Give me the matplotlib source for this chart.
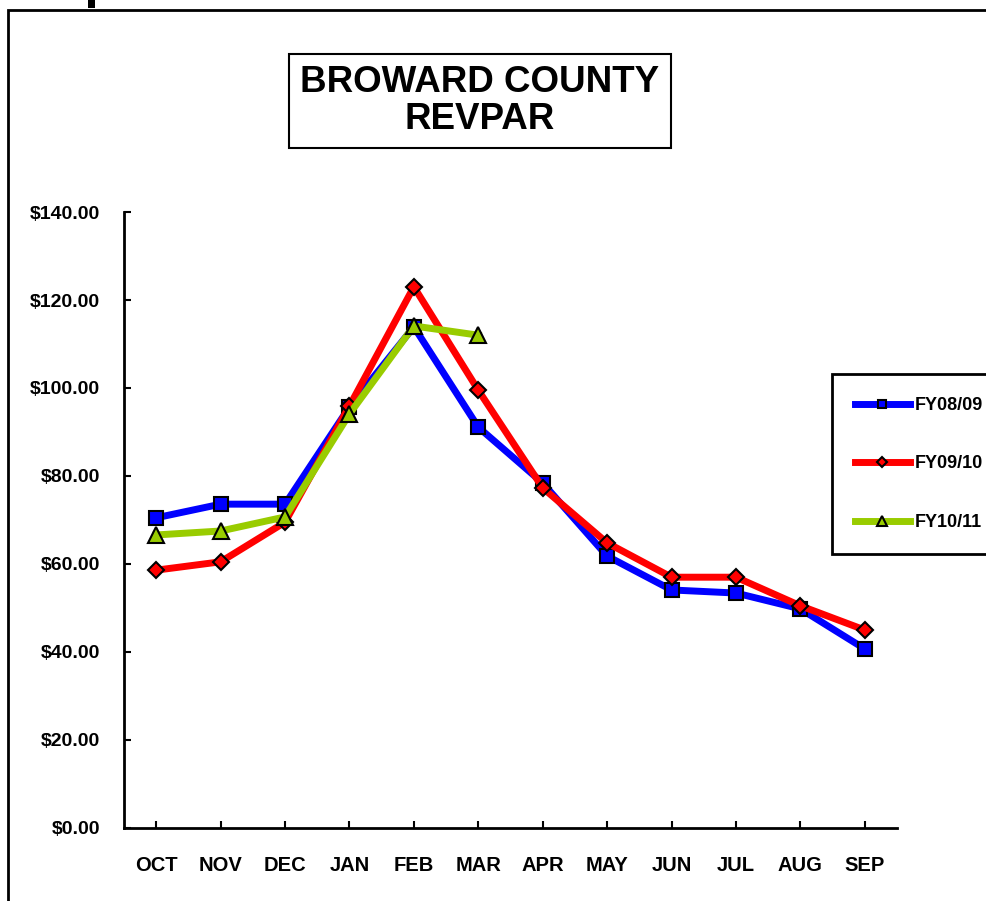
import numpy as np
import matplotlib.pyplot as plt
from matplotlib.patches import Rectangle

# Data
months = ['OCT', 'NOV', 'DEC', 'JAN', 'FEB', 'MAR', 'APR', 'MAY', 'JUN', 'JUL', 'AUG', 'SEP']
fy0809 = [70.5, 73.6, 73.6, 95.7, 113.9, 91.1, 78.4, 61.8, 54.1, 53.4, 49.8, 40.7]
fy0910 = [58.6, 60.5, 69.5, 95.9, 123.0, 99.5, 77.3, 64.8, 57.0, 57.0, 50.5, 45.0]
fy1011 = [66.6, 67.5, 70.7, 94.1, 114.1, 112.0]
yticks = np.arange(0, 141, 20)

plt.rcParams['font.family'] = ['Liberation Sans', 'DejaVu Sans']
plt.rcParams['font.weight'] = 'bold'

fig = plt.figure(figsize=(9.87, 9.01), dpi=100)
ax = fig.add_axes([124/987, 1 - 828/901, (897 - 124)/987, (828 - 212)/901])

x = np.arange(len(months))
l1, = ax.plot(x, fy0809, color='#0000ff', lw=5, marker='s', ms=10,
              mfc='#0000ff', mec='black', mew=1.5, zorder=3)
l2, = ax.plot(x, fy0910, color='#ff0000', lw=5, marker='D', ms=8,
              mfc='#ff0000', mec='black', mew=1.5, zorder=4)
l3, = ax.plot(x[:len(fy1011)], fy1011, color='#99cc00', lw=5, marker='^', ms=11,
              mfc='#99cc00', mec='black', mew=1.5, zorder=5)

ax.set_xlim(-0.5, len(months) - 0.5)
ax.set_ylim(0, 140)
ax.set_xticks(x)
ax.set_xticklabels(months, fontsize=14.5, fontweight='bold')
ax.set_yticks(yticks)
ax.set_yticklabels(['${:.2f}'.format(v) for v in yticks], fontsize=14, fontweight='bold')
ax.tick_params(axis='both', direction='in', length=5, width=1.5, colors='black')
ax.tick_params(axis='x', pad=20)
ax.tick_params(axis='y', pad=17)
for s in ['top', 'right']:
    ax.spines[s].set_visible(False)
for s in ['left', 'bottom']:
    ax.spines[s].set_linewidth(2)

# Title box
fig.text(480/987, 1 - 101/901, 'BROWARD COUNTY\nREVPAR', ha='center', va='center',
         fontsize=26.5, fontweight='bold', linespacing=1.1,
         bbox=dict(boxstyle='square,pad=0.3', fc='white', ec='black', lw=1.5))

leg = fig.legend([l1, l2, l3], ['FY08/09', 'FY09/10', 'FY10/11'],
                 loc='upper left', bbox_to_anchor=(832/987, 1 - 374/901),
                 borderaxespad=0, fontsize=13, markerscale=0.6, handlelength=3.05,
                 labelspacing=2.3, borderpad=1.27, fancybox=False,
                 edgecolor='black', framealpha=1, handletextpad=0.25)
leg.get_frame().set_linewidth(2)
for t in leg.get_texts():
    t.set_fontweight('bold')

# Figure border and small mark at top
fig.patches.append(Rectangle((8/987, -0.1), 1.2, 1 - 10/901 + 0.1, transform=fig.transFigure,
                             fill=False, ec='black', lw=2, figure=fig))
fig.patches.append(Rectangle((88/987, 1 - 8/901), 7/987, 8/901, transform=fig.transFigure,
                             fc='black', ec='none', figure=fig))

plt.savefig('out.png', dpi=100)
